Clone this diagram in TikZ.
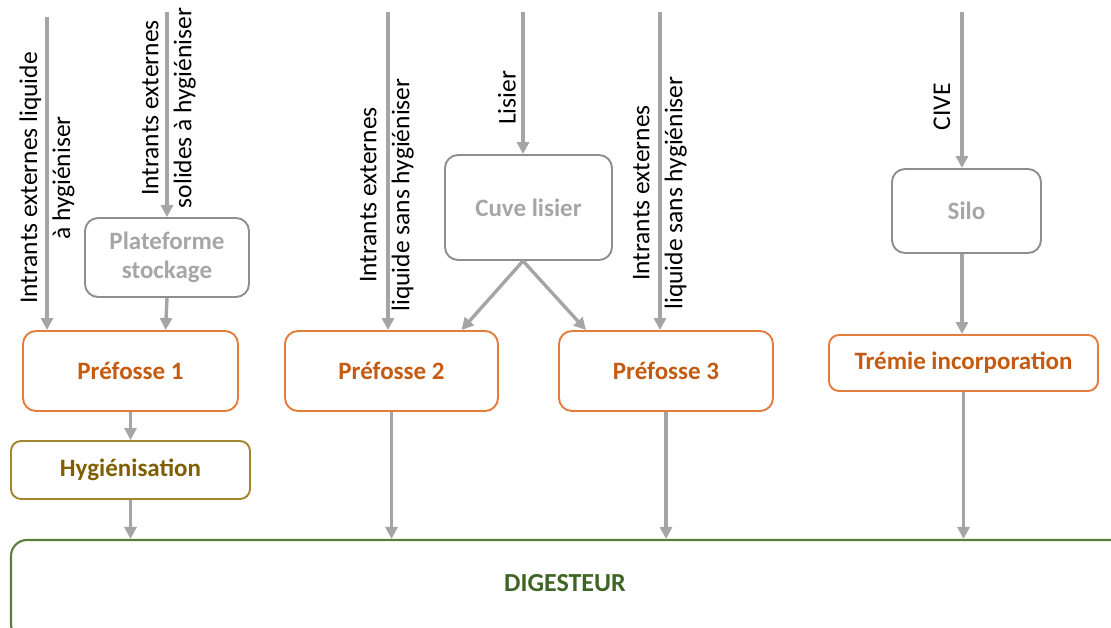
\documentclass[tikz,border=0pt]{standalone}
\usepackage{fontspec}
\setmainfont{Carlito}
\usetikzlibrary{arrows.meta,calc}
\definecolor{flowgray}{HTML}{A5A5A5}
\definecolor{boxgray}{HTML}{8E8E8E}
\definecolor{labgray}{HTML}{A6A6A6}
\definecolor{orangeline}{HTML}{E47C3C}
\definecolor{orangetext}{HTML}{C55A11}
\definecolor{oliveline}{HTML}{A2862E}
\definecolor{olivetext}{HTML}{7F6000}
\definecolor{greenline}{HTML}{5A7F3C}
\definecolor{greentext}{HTML}{3F6424}
\tikzset{
  flow/.style={draw=flowgray, line width=3.4pt, -{Triangle[length=12pt,width=12pt]}},
  basebox/.style={rounded corners=13pt, line width=1.9pt, font=\fontsize{25}{29}\selectfont\bfseries, inner sep=0pt},
  storebox/.style={basebox, draw=boxgray, text=labgray},
  pitbox/.style={basebox, draw=orangeline, text=orangetext},
  hygbox/.style={basebox, rounded corners=10pt, draw=oliveline, text=olivetext},
  digbox/.style={rounded corners=16pt, line width=2.1pt, draw=greenline, inner sep=0pt},
  inlabel/.style={rotate=90, inner sep=0pt, font=\fontsize{25.5}{33}\selectfont}
}
\begin{document}
\begin{tikzpicture}[x=1pt,y=-1pt]
\useasboundingbox (0,0) rectangle (1111,628);

% storage units
\node[storebox, minimum width=164pt, minimum height=79pt, align=center] (plat) at (167,257.5) {Plateforme\\stockage};
\node[storebox, minimum width=167pt, minimum height=105pt] (cuve) at (528.5,207.5) {Cuve lisier};
\node[storebox, minimum width=149pt, minimum height=84pt] (silo) at (966.5,211) {Silo};

% pre-pits and feeding hopper
\node[pitbox, minimum width=215pt, minimum height=80pt] (p1) at (130.5,371) {Préfosse 1};
\node[pitbox, minimum width=213pt, minimum height=80pt] (p2) at (391.5,371) {Préfosse 2};
\node[pitbox, minimum width=214pt, minimum height=80pt] (p3) at (666,371) {Préfosse 3};
\node[pitbox, rounded corners=10pt, minimum width=269pt, minimum height=56pt] (trem) at (963.5,363) {Trémie incorporation};

% sanitation
\node[hygbox, minimum width=239pt, minimum height=58pt] (hyg) at (130.5,470) {Hygiénisation};

% digester (runs past the lower and right edges)
\node[digbox, minimum width=1120pt, minimum height=100pt] (dig) at (571,590) {};
\node[font=\fontsize{26}{30}\selectfont\bfseries, text=greentext, inner sep=0pt] (digtxt) at (565,583) {DIGESTEUR};

% external inputs
\coordinate (in1) at (47,17);
\coordinate (in2) at (167,12);
\coordinate (in3) at (388,12);
\coordinate (in4) at (523,12);
\coordinate (in5) at (660,12);
\coordinate (in6) at (962,12);

\node[inlabel, align=center] (l1) at (47,178) {Intrants externes liquide\\à hygiéniser};
\node[inlabel, align=center] (l2) at (169,108) {Intrants externes\\solides à hygiéniser};
\node[inlabel, align=center] (l3) at (387,195) {Intrants externes\\liquide sans hygiéniser};
\node[inlabel] (l4) at (507,98) {Lisier};
\node[inlabel, align=center] (l5) at (660,193) {Intrants externes\\liquide sans hygiéniser};
\node[inlabel] (l6) at (942,107) {CIVE};

% flows
\draw[flow] (in1) -- (in1 |- p1.north);
\draw[flow] (in2) -- (in2 |- plat.north);
\draw[flow] (plat.south) -- ($(p1.north)+(35,0)$);
\draw[flow] (in3) -- (in3 |- p2.north);
\draw[flow] (in4) -- (in4 |- cuve.north);
\draw[flow] (in4 |- cuve.south) -- ($(p2.north)+(70,0)$);
\draw[flow] (in4 |- cuve.south) -- ($(p3.north)+(-80,0)$);
\draw[flow] (in5) -- (in5 |- p3.north);
\draw[flow] (in6) -- (in6 |- silo.north);
\draw[flow] (in6 |- silo.south) -- (in6 |- trem.north);

\draw[flow] (p1.south) -- (hyg.north);
\draw[flow] (hyg.south) -- (hyg.south |- dig.north);
\draw[flow] (p2.south) -- (p2.south |- dig.north);
\draw[flow] (p3.south) -- (p3.south |- dig.north);
\draw[flow] (trem.south) -- (trem.south |- dig.north);
\end{tikzpicture}
\end{document}
